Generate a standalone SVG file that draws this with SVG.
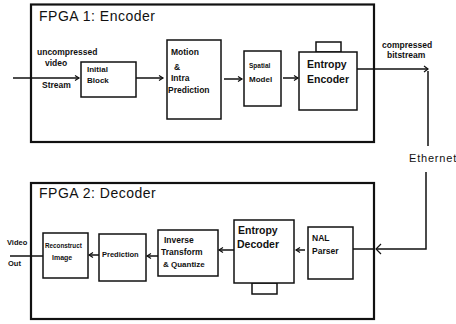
<svg xmlns="http://www.w3.org/2000/svg" width="456" height="324" viewBox="0 0 456 324">
<defs>
<style>
.frame{fill:none;stroke:#111;stroke-width:2.2}
.box{fill:#fff;stroke:#111;stroke-width:1.5}
.ln{fill:none;stroke:#111;stroke-width:1.5}
.t{font-family:"Liberation Sans",Arial,sans-serif;fill:#111;font-weight:bold}
.title{font-family:"Liberation Sans",Arial,sans-serif;fill:#111;font-size:14px;letter-spacing:0.5px}
</style>
<marker id="ah" markerWidth="8" markerHeight="8" refX="6" refY="4" orient="auto" markerUnits="userSpaceOnUse">
<path d="M2,1.5 L6,4 L2,6.5" fill="none" stroke="#111" stroke-width="1.2"/>
</marker>
</defs>
<rect width="456" height="324" fill="#fff"/>

<g id="fpga1">
<rect class="frame" x="31" y="4.5" width="343" height="137.5"/>
<text class="title" x="39" y="21">FPGA 1: Encoder</text>
</g>
<g id="fpga2">
<rect class="frame" x="31" y="183" width="343" height="136"/>
<text class="title" x="39" y="198">FPGA 2: Decoder</text>
</g>

<g id="connectors">
<line class="ln" x1="13" y1="78" x2="79" y2="78" marker-end="url(#ah)"/>
<line class="ln" x1="136" y1="78" x2="163" y2="78" marker-end="url(#ah)"/>
<line class="ln" x1="224" y1="79" x2="242" y2="79" marker-end="url(#ah)"/>
<line class="ln" x1="283" y1="78" x2="298" y2="78" marker-end="url(#ah)"/>
<polyline class="ln" points="357,69 428,69"/>
<path d="M424,66 L428,69 L424,72" fill="none" stroke="#111" stroke-width="1.2"/>
<line class="ln" x1="428" y1="71" x2="428" y2="146"/>
<polyline class="ln" points="426,172 426,249 376,249"/>
<path d="M381,244 L376,249 L381,254" fill="none" stroke="#111" stroke-width="1.2"/>
<line class="ln" x1="353" y1="249" x2="374" y2="249"/>
<line class="ln" x1="305" y1="250" x2="296" y2="250" marker-end="url(#ah)"/>
<line class="ln" x1="234" y1="250" x2="219" y2="250" marker-end="url(#ah)"/>
<line class="ln" x1="158" y1="256" x2="147" y2="256" marker-end="url(#ah)"/>
<line class="ln" x1="99" y1="255" x2="89" y2="255" marker-end="url(#ah)"/>
<line class="ln" x1="43" y1="256" x2="10" y2="256"/>
</g>

<g id="input-label">
<text class="t" font-size="8.5" x="37" y="55">uncompressed</text>
<text class="t" font-size="8.5" x="45" y="66">video</text>
<text class="t" font-size="8.5" x="42" y="88">Stream</text>
</g>

<g id="initial-block">
<rect class="box" x="81" y="62" width="55" height="35"/>
<text class="t" font-size="8" x="87" y="72">Initial</text>
<text class="t" font-size="8" x="87" y="83">Block</text>
</g>

<g id="motion">
<rect class="box" x="167" y="40" width="54" height="79"/>
<text class="t" font-size="8.5" x="171" y="55">Motion</text>
<text class="t" font-size="8.5" x="174" y="70">&amp;</text>
<text class="t" font-size="8.5" x="171" y="81">Intra</text>
<text class="t" font-size="8.5" x="168" y="93">Prediction</text>
</g>

<g id="spatial">
<rect class="box" x="244" y="51" width="37" height="55"/>
<text class="t" font-size="6.5" x="249" y="68">Spatial</text>
<text class="t" font-size="8" x="249" y="82">Model</text>
</g>

<g id="entropy-encoder">
<rect class="box" x="316" y="42" width="25" height="10"/>
<rect class="box" x="299" y="52" width="58" height="58"/>
<text class="t" font-size="10.5" x="307" y="68">Entropy</text>
<text class="t" font-size="10.5" x="307" y="83">Encoder</text>
</g>

<g id="out-label">
<text class="t" font-size="8.5" x="382" y="48">compressed</text>
<text class="t" font-size="8.5" x="387" y="58">bitstream</text>
</g>

<g id="ethernet">
<text class="t" font-size="11" style="font-weight:normal;letter-spacing:0.8px" x="409" y="162">Ethernet</text>
</g>

<g id="nal-parser">
<rect class="box" x="308" y="227" width="45" height="52"/>
<text class="t" font-size="8.5" x="312" y="241">NAL</text>
<text class="t" font-size="8.5" x="312" y="254">Parser</text>
</g>

<g id="entropy-decoder">
<rect class="box" x="252" y="283" width="25" height="11"/>
<rect class="box" x="234" y="220" width="60" height="63"/>
<text class="t" font-size="10.5" x="238" y="234">Entropy</text>
<text class="t" font-size="10.5" x="237" y="248">Decoder</text>
</g>

<g id="inverse">
<rect class="box" x="158" y="230" width="60" height="46"/>
<text class="t" font-size="8.5" x="164" y="243">Inverse</text>
<text class="t" font-size="8.5" x="161" y="255">Transform</text>
<text class="t" font-size="8" x="163" y="267">&amp; Quantize</text>
</g>

<g id="prediction">
<rect class="box" x="99" y="234" width="47" height="47"/>
<text class="t" font-size="7.5" x="102" y="257">Prediction</text>
</g>

<g id="reconstruct">
<rect class="box" x="43" y="233" width="45" height="45"/>
<text class="t" font-size="6.3" x="45" y="248">Reconstruct</text>
<text class="t" font-size="7" x="52" y="260">Image</text>
</g>

<g id="video-out">
<text class="t" font-size="7.5" x="7" y="245">Video</text>
<text class="t" font-size="7.5" x="8" y="266">Out</text>
</g>
</svg>
